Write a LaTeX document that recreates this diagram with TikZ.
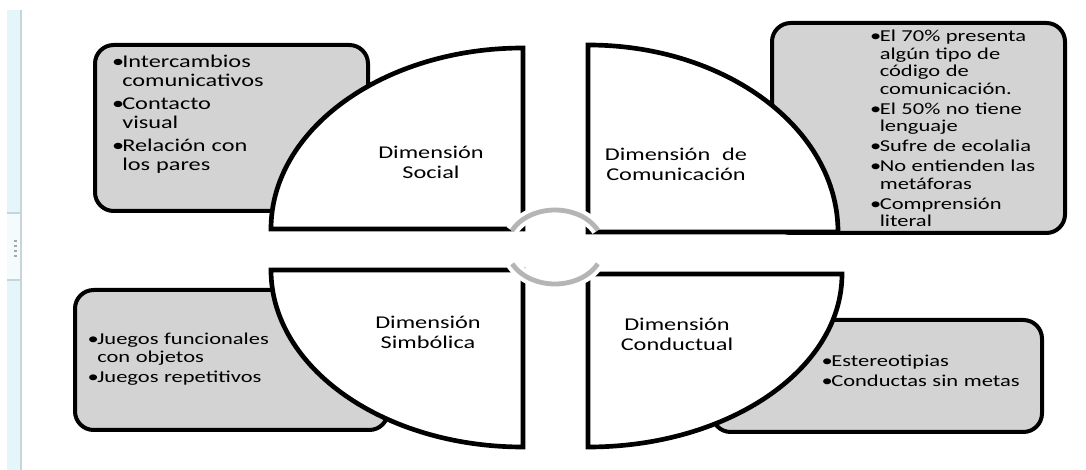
\documentclass[tikz,border=0pt]{standalone}
\usepackage{fontspec}
\setmainfont{Carlito}[FakeStretch=1.35]
\usepackage{xcolor}
\usepackage{tikz}

\definecolor{panelgray}{HTML}{D3D3D3}
\definecolor{ringgray}{HTML}{B5B5B5}
\definecolor{barcyan}{HTML}{E4F6FA}
\definecolor{barline}{HTML}{C5D6DA}

\newcommand{\dimbullet}{\makebox[6pt][c]{\textbullet}}
\newcommand{\dimindent}{\hspace*{6pt}}

\begin{document}
\begin{tikzpicture}[
    x=0.75pt, y=-0.75pt,
    quarter/.style={draw, line width=3.5pt, fill=white},
    panel/.style={draw, line width=3pt, fill=panelgray, rounded corners=14pt},
    ring/.style={draw=white, line width=3pt, double=ringgray, double distance=3.6pt},
    dimension/.style={inner sep=0pt, anchor=base, text width=130pt, align=center, font=\fontsize{13.5pt}{15pt}\selectfont},
    biglist/.style={inner sep=0pt, anchor=base west, text width=160pt, align=left, font=\fontsize{13.5pt}{13.9pt}\selectfont},
    smalllist/.style={inner sep=0pt, anchor=base west, text width=160pt, align=left, font=\fontsize{12.5pt}{13.1pt}\selectfont}
]
\useasboundingbox (0,0) rectangle (1086,470);

% side bar of the window
\fill[barcyan] (7,10) rectangle (20,470);
\fill[white!55!barcyan] (7,213) rectangle (20,280);
\draw[barline, line width=0.8pt] (7,213) -- (20,213) (7,280) -- (20,280);
\draw[barline, line width=1.5pt] (20.8,10) -- (20.8,470);
\foreach \y in {240,245,250,255}
  \fill[gray!70] (13.5,\y) rectangle (16.5,\y+1.6);

% grey panels
\draw[panel] (95,45) rectangle (368,211);
\draw[panel] (772,23) rectangle (1065,233);
\draw[panel] (75,290) rectangle (388,430);
\draw[panel] (712,320) rectangle (1042,432);

% quarters
\draw[quarter] (523,229) -- (271,229) arc[start angle=180, end angle=270, x radius=252, y radius=181] -- cycle;
\draw[quarter] (588,232) -- (588,45) arc[start angle=270, end angle=360, x radius=250, y radius=187] -- cycle;
\draw[quarter] (523,270) -- (271,270) arc[start angle=180, end angle=90, x radius=252, y radius=177] -- cycle;
\draw[quarter] (588,274) -- (842,274) arc[start angle=0, end angle=90, x radius=254, y radius=173] -- cycle;

% centre ring
\draw[ring] (555,247) ++(206:48 and 37) arc[start angle=206, end angle=333, x radius=48, y radius=37];
\draw[ring] (555,247) ++(27:48 and 37) arc[start angle=27, end angle=153, x radius=48, y radius=37];

\node[dimension] (social) at (431,159) {Dimensión\\Social};
\node[dimension] (comunic) at (676,161) {Dimensión~ de\\Comunicación};
\node[dimension] (simbol) at (428,329) {Dimensión\\Simbólica};
\node[dimension] (conduct) at (677,331) {Dimensión\\Conductual};

\node[biglist] (socialList) at (114,68) {\dimbullet Intercambios\\\dimindent comunicativos\\[3.6pt]\dimbullet Contacto\\\dimindent visual\\[3.6pt]\dimbullet Relación con\\\dimindent los pares};
\node[smalllist] (comunicList) at (871.5,42) {\dimbullet El 70\% presenta\\\dimindent algún tipo de\\\dimindent código de\\\dimindent comunicación.\\[1.9pt]\dimbullet El 50\% no tiene\\\dimindent lenguaje\\[1.9pt]\dimbullet Sufre de ecolalia\\[1.9pt]\dimbullet No entienden las\\\dimindent metáforas\\[1.9pt]\dimbullet Comprensión\\\dimindent literal};
\node[smalllist] (simbolList) at (89,345) {\dimbullet Juegos funcionales\\\dimindent con objetos\\[2.2pt]\dimbullet Juegos repetitivos};
\node[smalllist] (conductList) at (823,367) {\dimbullet Estereotipias\\[1.9pt]\dimbullet Conductas sin metas};

\end{tikzpicture}
\end{document}
